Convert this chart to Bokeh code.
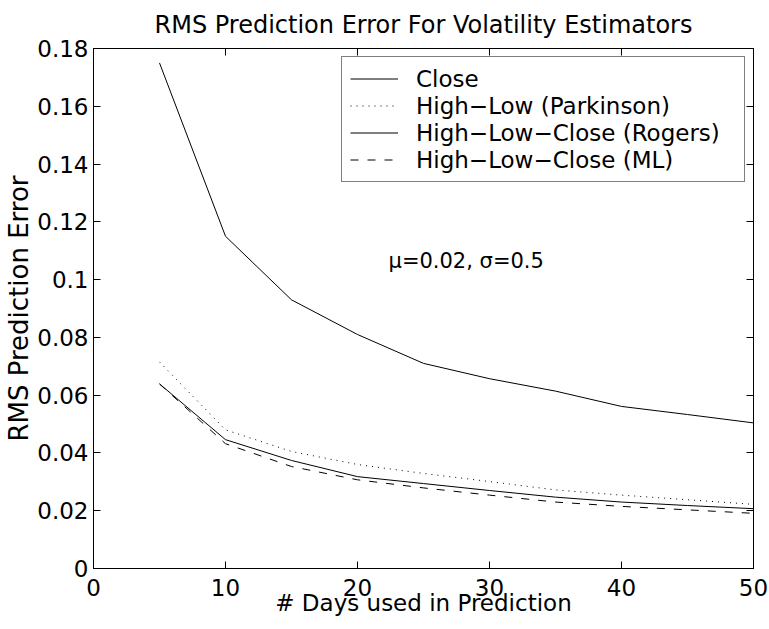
from bokeh.plotting import figure
from bokeh.models import Range1d, LinearAxis, FixedTicker, Legend, LegendItem, Label
from bokeh.embed import file_html
from bokeh.resources import INLINE

days = [5, 10, 15, 20, 25, 30, 35, 40, 45, 50]
close = [0.175, 0.115, 0.093, 0.081, 0.071, 0.0657, 0.0614, 0.0561, 0.0533, 0.0504]
parkinson = [0.0715, 0.048, 0.0405, 0.036, 0.0329, 0.0301, 0.0272, 0.0254, 0.0238, 0.0222]
rogers = [0.0639, 0.0446, 0.0374, 0.0318, 0.0294, 0.0270, 0.0247, 0.0230, 0.0218, 0.0207]
ml = [0.0639, 0.0432, 0.0353, 0.0307, 0.0279, 0.0254, 0.0230, 0.0215, 0.0203, 0.0191]

x_ticks = [0, 10, 20, 30, 40, 50]
y_ticks = [0, 0.02, 0.04, 0.06, 0.08, 0.1, 0.12, 0.14, 0.16, 0.18]
y_tick_labels = ["0", "0.02", "0.04", "0.06", "0.08", "0.1", "0.12", "0.14", "0.16", "0.18"]

series_names = ["Close", "High\u2212Low (Parkinson)", "High\u2212Low\u2212Close (Rogers)", "High\u2212Low\u2212Close (ML)"]

FONT = "DejaVu Sans"
FS = "23px"

p = figure(width=769, height=629, output_backend="svg", toolbar_location=None,
           x_range=Range1d(0, 50), y_range=Range1d(0, 0.18),
           min_border_left=93, min_border_top=48, min_border_right=16, min_border_bottom=61,
           x_axis_location=None, y_axis_location=None)
p.grid.visible = False
p.outline_line_color = "black"
p.outline_line_width = 1
p.background_fill_color = "white"
p.border_fill_color = "white"

p.title.text = "RMS Prediction Error For Volatility Estimators"
p.title.align = "center"
p.title.vertical_align = "top"
p.title.text_font = FONT
p.title.text_font_size = "24px"
p.title.text_font_style = "normal"
p.title.text_color = "black"
p.title.standoff = 16

def style_axis(ax, labels=True):
    ax.axis_line_color = "black"
    ax.major_tick_line_color = "black"
    ax.major_tick_in = 7
    ax.major_tick_out = 0
    ax.minor_tick_line_color = None
    ax.major_label_text_font = FONT
    if labels:
        ax.major_label_text_font_size = FS
        ax.major_label_text_color = "black"
    else:
        ax.major_label_text_font_size = "1px"
        ax.major_label_text_color = None
        ax.major_label_standoff = 0
    ax.axis_label_text_font = FONT
    ax.axis_label_text_font_size = FS
    ax.axis_label_text_font_style = "normal"
    ax.axis_label_text_color = "black"

xb = LinearAxis(axis_label="# Days used in Prediction")
style_axis(xb)
xb.ticker = FixedTicker(ticks=x_ticks)
xb.major_label_standoff = 10
xb.axis_label_standoff = -9
p.add_layout(xb, "below")

yl = LinearAxis(axis_label="RMS Prediction Error")
style_axis(yl)
yl.ticker = FixedTicker(ticks=y_ticks)
yl.major_label_overrides = {t: s for t, s in zip(y_ticks, y_tick_labels)}
yl.major_label_standoff = 5
yl.axis_label_text_font_size = "26px"
yl.axis_label_standoff = 0
p.add_layout(yl, "left")

xt = LinearAxis()
style_axis(xt, labels=False)
xt.ticker = FixedTicker(ticks=x_ticks)
p.add_layout(xt, "above")

yr = LinearAxis()
style_axis(yr, labels=False)
yr.ticker = FixedTicker(ticks=y_ticks)
p.add_layout(yr, "right")

r1 = p.line(days, close, line_color="black", line_width=1)
r2 = p.line(days, parkinson, line_color="black", line_width=1, line_dash="1 5")
r3 = p.line(days, rogers, line_color="black", line_width=1)
r4 = p.line(days, ml, line_color="black", line_width=1, line_dash="8 9")

legend = Legend(items=[LegendItem(label=n, renderers=[r]) for n, r in zip(series_names, [r1, r2, r3, r4])],
                location="top_right")
legend.margin = 8
legend.padding = 8
legend.spacing = 0
legend.glyph_width = 48
legend.glyph_height = 27
legend.label_height = 27
legend.label_width = 320
legend.label_standoff = 18
legend.label_text_font = FONT
legend.label_text_font_size = FS
legend.label_text_color = "black"
legend.border_line_color = "black"
legend.border_line_width = 1
legend.background_fill_color = "white"
legend.background_fill_alpha = 1
p.add_layout(legend)

p.add_layout(Label(x=22.35, y=0.1063, text="\u03bc=0.02, \u03c3=0.5", text_font=FONT, text_font_size="21px",
                   text_baseline="middle", text_align="left", text_color="black"))

open("out.html", "w").write(file_html(p, INLINE))
